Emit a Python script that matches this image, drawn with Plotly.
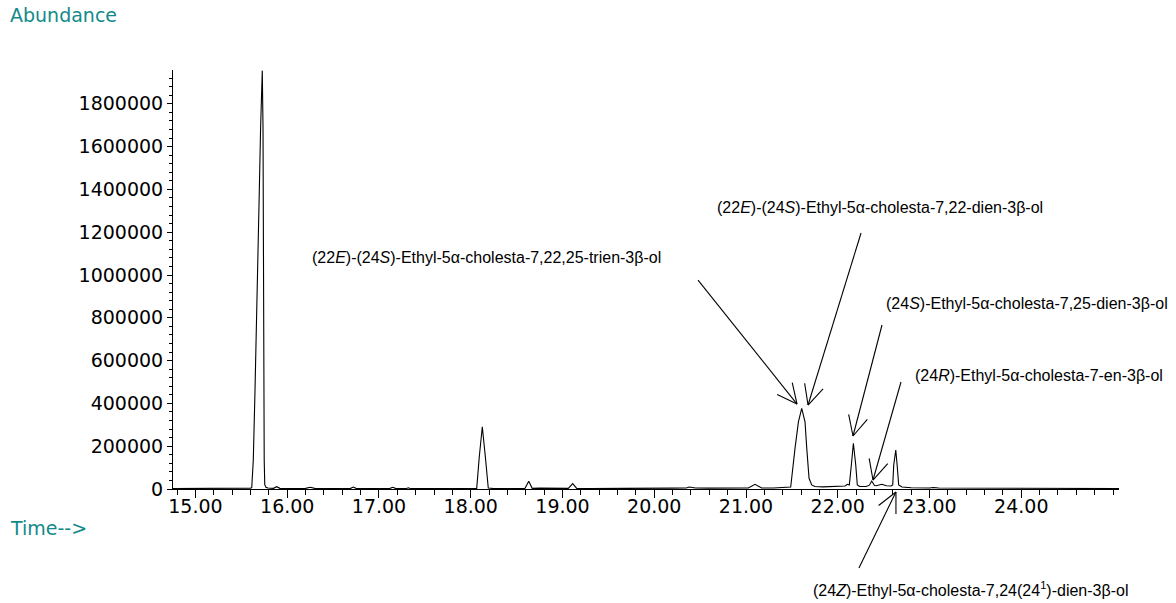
import math
import plotly.graph_objects as go

# Total ion chromatogram: retention time (min) and abundance
time_min = [
    14.755, 15.00, 15.30, 15.34, 15.38, 15.55, 15.60, 15.613, 15.619, 15.630,
    15.648, 15.684, 15.695, 15.710, 15.728, 15.736, 15.740, 15.745, 15.749, 15.755,
    15.768, 15.79, 15.85, 15.885, 15.92, 16.00, 16.20, 16.25, 16.30, 16.50,
    16.69, 16.72, 16.75, 16.95, 17.12, 17.15, 17.18, 17.30, 17.32, 17.34,
    17.41, 17.43, 17.45, 17.52, 17.54, 17.56, 17.64, 17.66, 17.68, 18.00,
    18.065, 18.093, 18.126, 18.159, 18.191, 18.25, 18.59, 18.632, 18.67, 18.75,
    19.00, 19.063, 19.111, 19.155, 19.30, 19.62, 19.645, 19.67, 20.20, 20.35,
    20.38, 20.45, 20.60, 20.80, 21.025, 21.098, 21.17, 21.30, 21.45, 21.487,
    21.534, 21.571, 21.607, 21.643, 21.662, 21.687, 21.716, 21.75, 21.84, 21.95,
    22.02, 22.08, 22.105, 22.126, 22.148, 22.170, 22.196, 22.213, 22.24, 22.31,
    22.345, 22.37, 22.40, 22.42, 22.48, 22.53, 22.58, 22.599, 22.61, 22.632,
    22.647, 22.664, 22.70, 22.80, 23.00, 23.04, 23.10, 23.40, 23.44, 23.48,
    24.00, 24.50, 25.065,
]
abundance = [
    2000, 2000, 2500, 5000, 2000, 2500, 4000, 6000, 57500, 135000,
    447000, 1070000, 1382000, 1693000, 1955000, 1693000, 1070000, 447000, 135000, 20000,
    8000, 5000, 3000, 11000, 3000, 2500, 3000, 8000, 3000, 2500,
    3000, 9000, 3000, 2500, 3000, 8000, 3000, 2500, 6000, 2500,
    2500, 6000, 2500, 2500, 5000, 2500, 2500, 5000, 2500, 2000,
    3000, 151000, 291000, 151000, 5000, 2000, 2000, 36000, 3000, 4000,
    2000, 3000, 25000, 3000, 2000, 3000, 6000, 3000, 4000, 5000,
    9000, 5000, 4000, 5000, 5000, 22000, 5000, 5000, 7000, 9000,
    190000, 314000, 377000, 314000, 190000, 50000, 19000, 12000, 10000, 12000,
    15000, 14000, 22000, 19000, 112000, 213500, 112000, 19000, 12000, 12000,
    18000, 37000, 16000, 15000, 22000, 15000, 14000, 19000, 112000, 182000,
    112000, 19000, 9000, 6000, 5000, 7000, 5000, 4000, 6000, 4000,
    3000, 2000, 2000,
]

x_tick_vals = [15, 16, 17, 18, 19, 20, 21, 22, 23, 24]
x_tick_text = ["15.00", "16.00", "17.00", "18.00", "19.00", "20.00",
               "21.00", "22.00", "23.00", "24.00"]
y_tick_vals = [0, 200000, 400000, 600000, 800000, 1000000,
               1200000, 1400000, 1600000, 1800000]
y_tick_text = ["0", "200000", "400000", "600000", "800000", "1000000",
               "1200000", "1400000", "1600000", "1800000"]

# Compound labels and the point each pointer arrow touches (time, abundance)
compounds = [
    "(22<i>E</i>)-(24<i>S</i>)-Ethyl-5α-cholesta-7,22,25-trien-3β-ol",
    "(22<i>E</i>)-(24<i>S</i>)-Ethyl-5α-cholesta-7,22-dien-3β-ol",
    "(24<i>S</i>)-Ethyl-5α-cholesta-7,25-dien-3β-ol",
    "(24<i>R</i>)-Ethyl-5α-cholesta-7-en-3β-ol",
    "(24<i>Z</i>)-Ethyl-5α-cholesta-7,24(24<sup>1</sup>)-dien-3β-ol",
]
arrow_tip_time = [21.556, 21.676, 22.166, 22.384, 22.634]
arrow_tip_abund = [397000, 392500, 247700, 42000, -14000]

# Layout geometry (pixels)
W, H = 1176, 603
L, R, T, B = 173, 1119, 70, 489
X_RANGE = [14.755, 25.065]
Y_RANGE = [0, 1958000]

TEAL = "#128a8a"
TICK_FONT = dict(family="DejaVu Sans", size=19, color="black")
LABEL_FONT = dict(family="Liberation Sans, Arial", size=16, color="black")
CAPTION_FONT = dict(family="DejaVu Sans", size=19, color=TEAL)


def paper_x(px):
    return (px - L) / (R - L)


def paper_y(py):
    return (B - py) / (B - T)


fig = go.Figure()
fig.add_trace(go.Scatter(
    x=time_min, y=abundance, mode="lines",
    line=dict(color="black", width=1.1),
    hoverinfo="skip", showlegend=False,
))

# label text: (left px, centre y px)
label_pos = [(310, 257), (715, 208), (884, 303), (913, 375), (811, 589)]
# arrow tail offset from tip, in screen pixels (x right, y down)
tail_offsets = [(-99, -124), (53, -172), (29, -111), (28, -98), (-37, 76)]

annotations = []
for text, (lx, ly) in zip(compounds, label_pos):
    annotations.append(dict(
        text=text, xref="paper", yref="paper", x=paper_x(lx), y=paper_y(ly),
        xanchor="left", yanchor="middle", showarrow=False, font=LABEL_FONT,
    ))

annotations.append(dict(
    text="Abundance", xref="paper", yref="paper", x=paper_x(8), y=paper_y(15),
    xanchor="left", yanchor="middle", showarrow=False, font=CAPTION_FONT,
))
annotations.append(dict(
    text="Time-->", xref="paper", yref="paper", x=paper_x(8), y=paper_y(528),
    xanchor="left", yanchor="middle", showarrow=False, font=CAPTION_FONT,
))

# Open "V" pointer arrows: a shaft plus two barbs, each a line anchored at the tip
BARB_LEN = 22
BARB_ANG = math.radians(26)
shapes = []
line_style = dict(color="black", width=1.1)
for t, a, (dx, dy) in zip(arrow_tip_time, arrow_tip_abund, tail_offsets):
    segs = [(dx, dy)]
    n = math.hypot(dx, dy)
    ux, uy = dx / n, dy / n
    for s in (1, -1):
        c, si = math.cos(s * BARB_ANG), math.sin(s * BARB_ANG)
        segs.append((BARB_LEN * (ux * c - uy * si), BARB_LEN * (ux * si + uy * c)))
    inside = a >= Y_RANGE[0]
    for sx, sy in segs:
        if inside:
            shapes.append(dict(
                type="line", layer="above", line=line_style,
                xref="x", xsizemode="pixel", xanchor=t, x0=0, x1=sx,
                yref="y", ysizemode="pixel", yanchor=a, y0=0, y1=-sy,
            ))
        else:
            # tip sits just under the time axis, outside the plotting area
            tx = (t - X_RANGE[0]) / (X_RANGE[1] - X_RANGE[0])
            ty = (a - Y_RANGE[0]) / (Y_RANGE[1] - Y_RANGE[0])
            shapes.append(dict(
                type="line", layer="above", line=line_style,
                xref="paper", yref="paper",
                x0=tx, y0=ty,
                x1=tx + sx / (R - L), y1=ty - sy / (B - T),
            ))

fig.update_layout(
    width=W, height=H,
    margin=dict(l=L, r=W - R, t=T, b=H - B),
    paper_bgcolor="white", plot_bgcolor="white",
    annotations=annotations, shapes=shapes,
    showlegend=False,
)
fig.update_xaxes(
    range=X_RANGE, showgrid=False, zeroline=False,
    showline=True, linecolor="black", linewidth=1,
    tickmode="array", tickvals=x_tick_vals, ticktext=x_tick_text,
    ticks="outside", ticklen=8, tickwidth=1, tickcolor="black",
    tickfont=TICK_FONT, ticklabelstandoff=-8,
    minor=dict(dtick=0.2, tick0=15, ticks="outside", ticklen=5,
               tickwidth=1, tickcolor="black", showgrid=False),
)
fig.update_yaxes(
    range=Y_RANGE, showgrid=False, zeroline=False,
    showline=True, linecolor="black", linewidth=1,
    tickmode="array", tickvals=y_tick_vals, ticktext=y_tick_text,
    ticks="outside", ticklen=5, tickwidth=1, tickcolor="black",
    tickfont=TICK_FONT,
    minor=dict(dtick=40000, tick0=0, ticks="outside", ticklen=3,
               tickwidth=1, tickcolor="black", showgrid=False),
)

fig.write_html("out.html")
